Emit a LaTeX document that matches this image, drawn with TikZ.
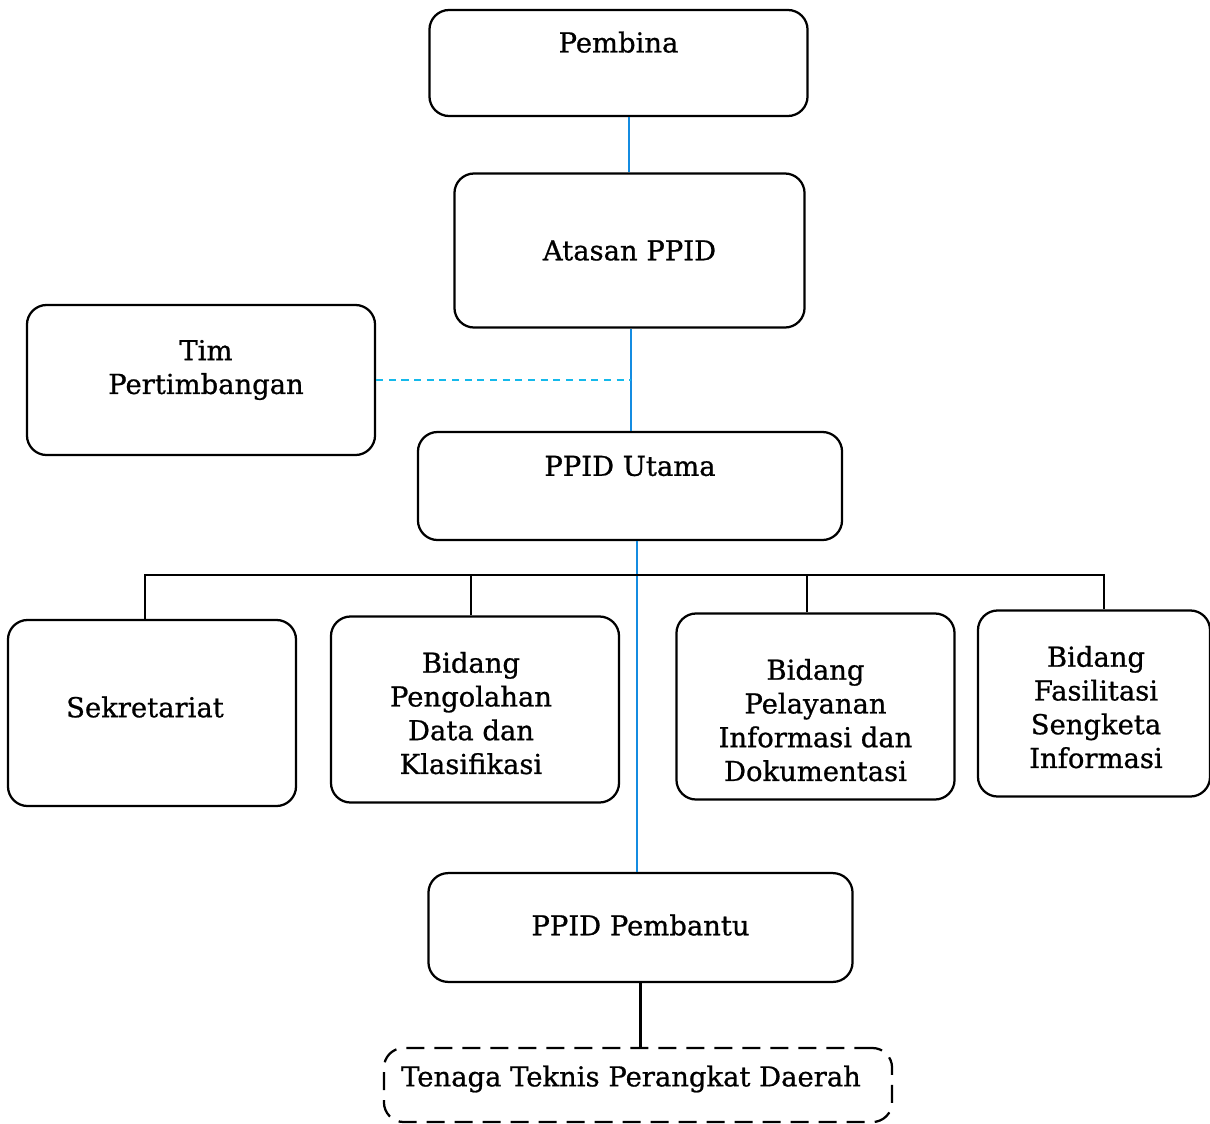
\documentclass[tikz,border=0pt]{standalone}
\usepackage{fontspec}
\setmainfont[FakeBold=0.8]{DejaVu Serif}
\usetikzlibrary{
    positioning     % For relative positioning of nodes
}
\definecolor{linkblue}{RGB}{20,140,225}
\definecolor{linkcyan}{RGB}{20,185,235}
\tikzset{
    % Style for the unit boxes
    unit/.style={
        draw,
        line width=1.6pt,
        rectangle,
        rounded corners=14pt,
        inner sep=0pt
    },
    % Style for the texts inside the boxes
    caption/.style={
        align=center,
        inner sep=0pt,
        font=\fontsize{19.5}{24}\selectfont
    },
    % Style for the blue links
    link/.style={
        draw=linkblue,
        line width=1.1pt
    },
    % Style for the black links
    bus/.style={
        draw,
        line width=1.6pt
    }
}

\begin{document}
\begin{tikzpicture}[x=0.025cm, y=-0.025cm]
    \useasboundingbox (0,0) rectangle (1210,1124);

    % --- Top of the chart ---
    \node (pembina) [unit, minimum width=9.45cm, minimum height=2.65cm,
        label={[caption, name=pembina_txt, yshift=0.52cm]center:Pembina}] at (618.5,63) {};
    \node (atasan)  [unit, minimum width=8.75cm, minimum height=3.85cm,
        label={[caption, name=atasan_txt]center:Atasan PPID}] at (629.5,250.5) {};
    \node (tim)     [unit, minimum width=8.7cm, minimum height=3.75cm,
        label={[caption, name=tim_txt, xshift=0.125cm, yshift=0.25cm]center:Tim\\Pertimbangan}] at (201,380) {};
    \node (utama)   [unit, minimum width=10.6cm, minimum height=2.7cm,
        label={[caption, name=utama_txt, yshift=0.5cm]center:PPID Utama}] at (630,486) {};

    % --- Middle row ---
    \node (sekretariat) [unit, minimum width=7.2cm, minimum height=4.65cm,
        label={[caption, name=sekretariat_txt, xshift=-0.175cm, yshift=0.15cm]center:Sekretariat}] at (152,713) {};
    \node (pengolahan)  [unit, minimum width=7.2cm, minimum height=4.65cm,
        label={[caption, name=pengolahan_txt, xshift=-0.1cm, yshift=-0.09cm]center:Bidang\\Pengolahan\\Data dan\\Klasifikasi}] at (475,709.5) {};
    \node (pelayanan)   [unit, minimum width=6.95cm, minimum height=4.65cm,
        label={[caption, name=pelayanan_txt, yshift=-0.34cm]center:Bidang\\Pelayanan\\Informasi dan\\Dokumentasi}] at (815.5,706.5) {};
    \node (fasilitasi)  [unit, minimum width=5.8cm, minimum height=4.65cm,
        label={[caption, name=fasilitasi_txt, xshift=0.05cm, yshift=-0.09cm]center:Bidang\\Fasilitasi\\Sengketa\\Informasi}] at (1094,703.5) {};

    % --- Bottom of the chart ---
    \node (pembantu) [unit, minimum width=10.6cm, minimum height=2.72cm,
        label={[caption, name=pembantu_txt, yshift=0.06cm]center:PPID Pembantu}] at (640.5,927.5) {};
    \node (tenaga)   [unit, dashed, dash pattern=on 0.45cm off 0.25cm, minimum width=12.7cm, minimum height=1.85cm,
        label={[caption, name=tenaga_txt, xshift=-0.175cm, yshift=0.15cm]center:Tenaga Teknis Perangkat Daerah}] at (638,1085) {};

    % Blue links
    \draw [link] (pembina.south -| 629,0) coordinate (pemtop) -- (pemtop |- atasan.north);
    \draw [link] (atasan.south -| 631,0) coordinate (attop) -- (attop |- utama.north);
    \coordinate (timjoin) at (attop |- tim.east);
    \draw [link, draw=linkcyan, dashed, dash pattern=on 5pt off 4pt] (tim.east) -- (timjoin);
    \draw [link] (pembantu.north -| 637,0) coordinate (pbtop) -- (pbtop |- utama.south);

    % Black bus to the sections
    \coordinate (busmid) at (637,575);
    \draw [bus] ([xshift=-0.175cm]sekretariat.north) |- (busmid) -| ([xshift=0.25cm]fasilitasi.north);
    \draw [bus] ([xshift=-0.1cm]pengolahan.north) -- ([xshift=-0.1cm]pengolahan.north |- busmid);
    \draw [bus] ([xshift=-0.21cm]pelayanan.north) -- ([xshift=-0.21cm]pelayanan.north |- busmid);
    \draw [bus] (pembantu) -- (pembantu.south |- tenaga.north);
\end{tikzpicture}
\end{document}
